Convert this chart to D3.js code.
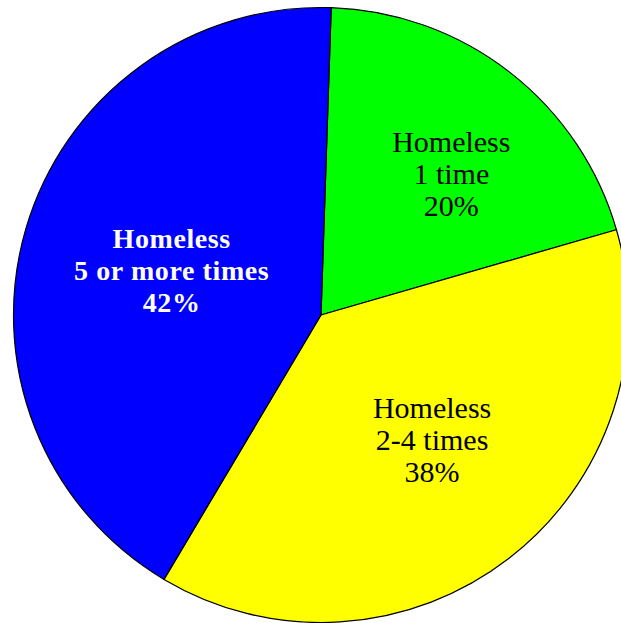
<!DOCTYPE html>
<html>
<head>
<meta charset="utf-8">
<script src="https://cdn.jsdelivr.net/npm/d3@7"></script>
<style>
  html, body { margin: 0; padding: 0; background: #fff; }
  svg { display: block; }
</style>
</head>
<body>
<svg id="chart" width="621" height="623"></svg>
<script>
// Share of people by number of times homeless
const categories = ["Homeless\n1 time", "Homeless\n2-4 times", "Homeless\n5 or more times"];
const values = [20, 38, 42];
const colors = ["#00ff00", "#ffff00", "#0000ff"];
const labelColors = ["#000000", "#000000", "#ffffff"];
const percentLabels = ["20%", "38%", "42%"];

const width = 621, height = 623;
const cx = 321, cy = 315, radius = 307.5;
const startOffset = 1.9 * Math.PI / 180;

const svg = d3.select("#chart");
const g = svg.append("g").attr("transform", `translate(${cx},${cy})`);

const pie = d3.pie()
  .sort(null)
  .value(d => d.value)
  .startAngle(startOffset)
  .endAngle(startOffset + 2 * Math.PI);

const data = categories.map((c, i) => ({
  name: c, value: values[i], color: colors[i],
  textColor: labelColors[i], pct: percentLabels[i]
}));

const arcs = pie(data);
const arc = d3.arc().innerRadius(0).outerRadius(radius);

g.selectAll("path.slice")
  .data(arcs)
  .enter().append("path")
  .attr("class", "slice")
  .attr("d", arc)
  .attr("fill", d => d.data.color)
  .attr("stroke", "#000")
  .attr("stroke-width", 1.2)
  .attr("stroke-linejoin", "round");

// label placement: distance from the centre and a small angular nudge per slice
const labelRadius = [190, 167, 156];
const labelNudge = [5.4, -4, 0.5];
const labelStyle = [
  { size: 30, weight: "normal", spacing: 0 },
  { size: 30, weight: "normal", spacing: 0 },
  { size: 28, weight: "bold", spacing: 0.6 }
];

arcs.forEach((a, i) => {
  const mid = (a.startAngle + a.endAngle) / 2 + labelNudge[i] * Math.PI / 180;
  const x = Math.sin(mid) * labelRadius[i];
  const y = -Math.cos(mid) * labelRadius[i];
  const lines = a.data.name.split("\n").concat([a.data.pct]);
  const t = g.append("text")
    .attr("x", x)
    .attr("y", y)
    .attr("text-anchor", "middle")
    .attr("font-family", "'Liberation Serif', 'Times New Roman', serif")
    .attr("font-size", labelStyle[i].size)
    .attr("font-weight", labelStyle[i].weight)
    .attr("letter-spacing", labelStyle[i].spacing)
    .attr("fill", a.data.textColor);
  lines.forEach((ln, j) => {
    t.append("tspan")
      .attr("x", x)
      .attr("dy", j === 0 ? (i === 0 ? -25 : -22) : 32)
      .text(ln);
  });
});
</script>
</body>
</html>
